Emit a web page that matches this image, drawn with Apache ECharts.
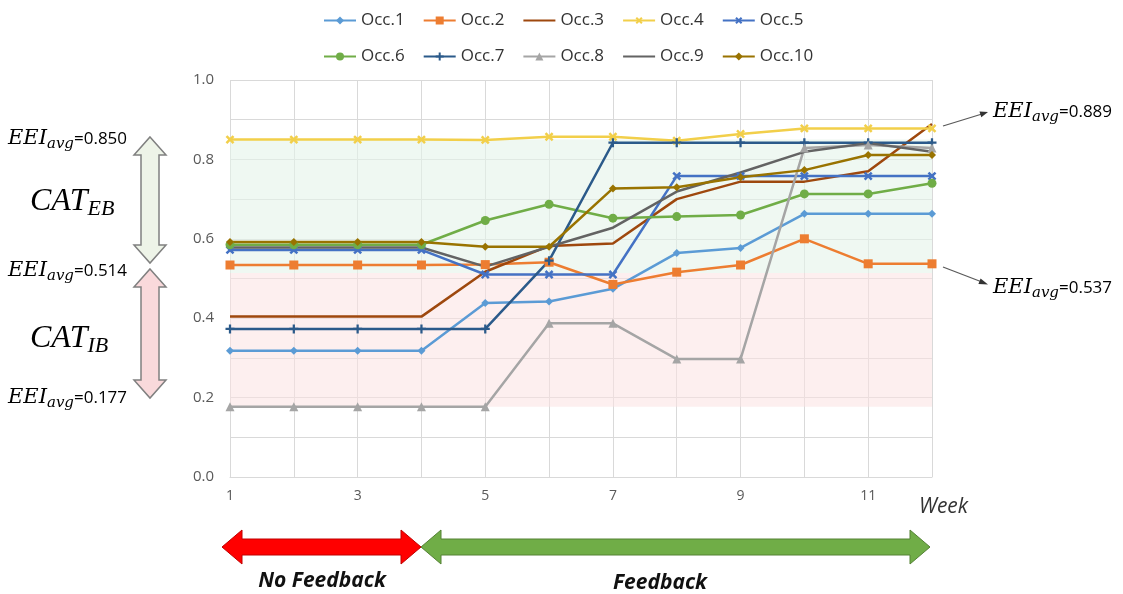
<!DOCTYPE html>
<html>
<head>
<meta charset="utf-8">
<script src="https://cdn.jsdelivr.net/npm/echarts@6/dist/echarts.min.js"></script>
<style>html,body{margin:0;padding:0;background:#fff}#c{width:1123px;height:594px}</style>
</head>
<body>
<div id="c"></div>
<script>
var weeks = ['1','2','3','4','5','6','7','8','9','10','11','12'];
var names = ['Occ.1','Occ.2','Occ.3','Occ.4','Occ.5','Occ.6','Occ.7','Occ.8','Occ.9','Occ.10'];
var occ1 = [0.318,0.318,0.318,0.318,0.438,0.442,0.474,0.564,0.577,0.663,0.663,0.663];
var occ2 = [0.534,0.534,0.534,0.534,0.535,0.541,0.485,0.516,0.534,0.600,0.537,0.537];
var occ3 = [0.404,0.404,0.404,0.404,0.517,0.582,0.588,0.700,0.744,0.744,0.770,0.889];
var occ4 = [0.850,0.850,0.850,0.850,0.849,0.857,0.857,0.847,0.864,0.878,0.878,0.878];
var occ5 = [0.572,0.572,0.572,0.572,0.510,0.510,0.510,0.758,0.758,0.758,0.758,0.758];
var occ6 = [0.585,0.585,0.585,0.585,0.646,0.687,0.652,0.656,0.660,0.713,0.713,0.740];
var occ7 = [0.373,0.373,0.373,0.373,0.373,0.545,0.842,0.842,0.842,0.842,0.842,0.842];
var occ8 = [0.177,0.177,0.177,0.177,0.177,0.387,0.387,0.297,0.297,0.829,0.836,0.829];
var occ9 = [0.578,0.578,0.578,0.578,0.530,0.580,0.628,0.719,0.767,0.819,0.841,0.819];
var occ10 = [0.592,0.592,0.592,0.592,0.580,0.580,0.727,0.730,0.755,0.773,0.811,0.811];
var bandEB = [0.514, 0.850];
var bandIB = [0.177, 0.514];

var PLUS = 'path://M-1,-4L1,-4L1,-1L4,-1L4,1L1,1L1,4L-1,4L-1,1L-4,1L-4,-1L-1,-1Z';
var colors = ['#5B9BD5','#ED7D31','#9E480E','#F2CF4A','#4472C4','#70AD47','#2B5A8A','#A5A5A5','#636363','#997300'];
var symbols = ['diamond','rect','none',PLUS,PLUS,'circle',PLUS,'triangle','none','diamond'];
var symSizes = [8,9,0,10,10,9,9,9,0,8];
var rotates = [0,0,0,45,45,0,0,0,0,0];
var datas = [occ1,occ2,occ3,occ4,occ5,occ6,occ7,occ8,occ9,occ10];

var series = [{
  name: 'bands', type: 'line', data: [], silent: true, z: 1,
  markArea: {
    silent: true,
    data: [
      [{yAxis: bandEB[0], itemStyle: {color: 'rgba(228,243,233,0.6)'}}, {yAxis: bandEB[1]}],
      [{yAxis: bandIB[0], itemStyle: {color: 'rgba(252,225,225,0.55)'}}, {yAxis: bandIB[1]}]
    ]
  }
}];
for (var i = 0; i < names.length; i++) {
  series.push({
    name: names[i], type: 'line', data: datas[i], z: 3,
    symbol: symbols[i], symbolSize: symSizes[i], symbolRotate: rotates[i],
    showSymbol: symbols[i] !== 'none',
    lineStyle: {color: colors[i], width: 2.5},
    itemStyle: {color: colors[i]},
    emphasis: {disabled: true}
  });
}

function legendItems(list) {
  return list.map(function (n) {
    var idx = names.indexOf(n);
    if (symbols[idx] === 'none') return {name: n, itemStyle: {opacity: 0}};
    return {name: n};
  });
}

var legendText = {fontFamily: 'Open Sans', fontSize: 17, color: '#333'};
function eeiText(val) {
  return '{e|EEI}{s|avg}{n|=' + val + '}';
}
var eeiRich = {
  e: {fontFamily: 'DejaVu Serif', fontStyle: 'italic', fontSize: 21, color: '#222'},
  s: {fontFamily: 'DejaVu Serif', fontStyle: 'italic', fontSize: 15, color: '#222', padding: [10,0,0,0]},
  n: {fontFamily: 'Open Sans', fontSize: 17, color: '#222'}
};
var catRich = {
  c: {fontFamily: 'Liberation Serif', fontStyle: 'italic', fontSize: 32, color: '#222'},
  s: {fontFamily: 'Liberation Serif', fontStyle: 'italic', fontSize: 22, color: '#222', padding: [15,0,0,0]}
};
function vArrow(cx, top, bottom, fill) {
  var hw = 16, sw = 9, hl = 18;
  return {
    type: 'polygon',
    shape: {points: [[cx, top],[cx+hw, top+hl],[cx+sw, top+hl],[cx+sw, bottom-hl],[cx+hw, bottom-hl],[cx, bottom],[cx-hw, bottom-hl],[cx-sw, bottom-hl],[cx-sw, top+hl],[cx-hw, top+hl]]},
    style: {fill: fill, stroke: '#808080', lineWidth: 1.5}
  };
}
function hArrow(left, right, cy, fill, stroke) {
  var hh = 17, sh = 8, hl = 20;
  return {
    type: 'polygon',
    shape: {points: [[left, cy],[left+hl, cy-hh],[left+hl, cy-sh],[right-hl, cy-sh],[right-hl, cy-hh],[right, cy],[right-hl, cy+hh],[right-hl, cy+sh],[left+hl, cy+sh],[left+hl, cy+hh]]},
    style: {fill: fill, stroke: stroke, lineWidth: 1}
  };
}
function txt(x, y, text, rich, align) {
  return {type: 'text', x: x, y: y, style: {text: text, rich: rich, align: align || 'left', verticalAlign: 'middle'}};
}

var graphics = [
  vArrow(150, 137, 263, '#EEF4E8'),
  vArrow(150, 269, 398, '#F9D9DB'),
  txt(8, 139, eeiText('0.850'), eeiRich),
  txt(8, 271, eeiText('0.514'), eeiRich),
  txt(8, 398, eeiText('0.177'), eeiRich),
  txt(30, 202, '{c|CAT}{s|EB}', catRich),
  txt(30, 339, '{c|CAT}{s|IB}', catRich),
  {type: 'line', shape: {x1: 943, y1: 126, x2: 982, y2: 114}, style: {stroke: '#595959', lineWidth: 1.2}},
  {type: 'polygon', shape: {points: [[988,112],[981.3,117.3],[979.5,111.5]]}, style: {fill: '#333'}},
  {type: 'line', shape: {x1: 943, y1: 267, x2: 982, y2: 282}, style: {stroke: '#595959', lineWidth: 1.2}},
  {type: 'polygon', shape: {points: [[988,284.5],[978.4,284],[980.6,278.4]]}, style: {fill: '#333'}},
  txt(993, 112, eeiText('0.889'), eeiRich),
  txt(993, 288, eeiText('0.537'), eeiRich),
  {type: 'text', x: 919, y: 507, style: {text: 'Week', fontFamily: 'Open Sans', fontStyle: 'italic', fontSize: 21, fill: '#333', verticalAlign: 'middle'}},
  hArrow(222, 421, 547, '#FF0000', '#C00000'),
  hArrow(421, 930, 547, '#70AD47', '#548235'),
  {type: 'text', x: 322, y: 581, style: {text: 'No Feedback', fontFamily: 'Open Sans', fontStyle: 'italic', fontWeight: 'bold', fontSize: 21, fill: '#111', align: 'center', verticalAlign: 'middle'}},
  {type: 'text', x: 660, y: 583, style: {text: 'Feedback', fontFamily: 'Open Sans', fontStyle: 'italic', fontWeight: 'bold', fontSize: 21, fill: '#111', align: 'center', verticalAlign: 'middle'}}
];

var chart = echarts.init(document.getElementById('c'), null, {renderer: 'canvas'});
chart.setOption({
  animation: false,
  backgroundColor: '#fff',
  legend: [
    {data: legendItems(names.slice(0,5)), left: 318, top: 7, itemWidth: 32, itemHeight: 10, itemGap: 18, textStyle: legendText},
    {data: legendItems(names.slice(5)), left: 318, top: 43, itemWidth: 32, itemHeight: 10, itemGap: 18, textStyle: legendText}
  ],
  grid: {left: 230, right: 191, top: 80, bottom: 117},
  xAxis: {
    type: 'category', data: weeks, boundaryGap: false,
    axisLine: {show: true, lineStyle: {color: '#d9d9d9'}},
    axisTick: {show: false},
    axisLabel: {interval: 1, color: '#595959', fontFamily: 'Open Sans', fontSize: 14, margin: 12},
    splitLine: {show: true, interval: 0, lineStyle: {color: '#d9d9d9', width: 1}}
  },
  yAxis: {
    type: 'value', min: 0, max: 1, interval: 0.2,
    axisLine: {show: false}, axisTick: {show: false},
    axisLabel: {formatter: function (v) { return v.toFixed(1); }, color: '#595959', fontFamily: 'Open Sans', fontSize: 15, margin: 16},
    splitLine: {lineStyle: {color: '#d9d9d9'}},
    minorTick: {show: false, splitNumber: 2},
    minorSplitLine: {show: true, lineStyle: {color: '#d9d9d9'}}
  },
  series: series,
  graphic: graphics
});
</script>
</body>
</html>
